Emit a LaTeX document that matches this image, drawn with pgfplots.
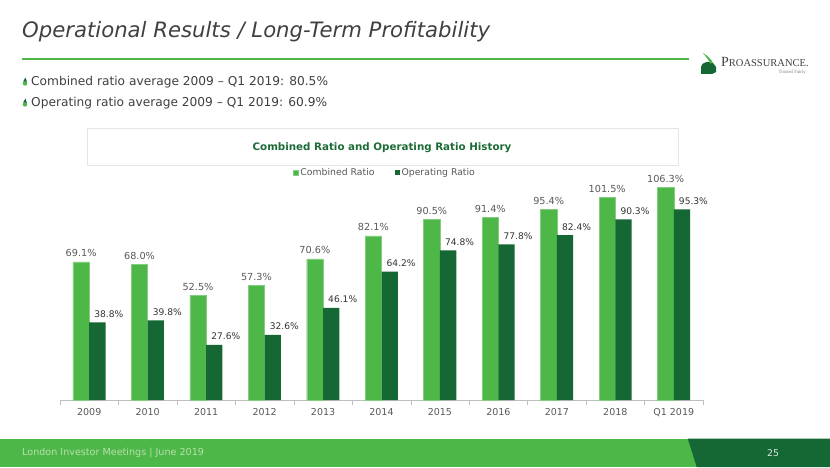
\documentclass[border=0pt]{standalone}
\usepackage{fontspec}
\setmainfont{DejaVu Sans}
\newfontfamily\logofont{Liberation Serif}
\usepackage{pgfplots}
\pgfplotsset{compat=1.18}
\usepackage{pgfplotstable}

\definecolor{pagr}{HTML}{4DB848}
\definecolor{dkgr}{HTML}{156734}
\definecolor{txtgr}{HTML}{595959}
\definecolor{titgr}{HTML}{404040}
\definecolor{ctitle}{HTML}{1B6B36}
\definecolor{foottxt}{HTML}{B8E0AE}

\pgfplotstableread{
x c cl o ol
0 69.1 69.1 38.8 38.8
1 68.0 68.0 39.8 39.8
2 52.5 52.5 27.6 27.6
3 57.3 57.3 32.6 32.6
4 70.6 70.6 46.1 46.1
5 82.1 82.1 64.2 64.2
6 90.5 90.5 74.8 74.8
7 91.4 91.4 77.8 77.8
8 95.4 95.4 82.4 82.4
9 101.5 101.5 90.3 90.3
10 106.3 106.3 95.3 95.3
}\ratios

\begin{document}
\begin{tikzpicture}[x=1pt,y=1pt]
\useasboundingbox (0,0) rectangle (830,467);
\fill[white] (0,0) rectangle (830,467);

% slide title
\node[anchor=west, inner sep=0, text=titgr, font=\fontsize{21.2}{25}\selectfont\itshape] at (22,435) {Operational Results / Long-Term Profitability};
\draw[pagr, line width=1.5pt] (22,408) -- (689,408);

% logo
\fill[dkgr] (701,393) -- (701,400) .. controls (702,404) and (705,405) .. (709,405) -- (713,404) -- (716,400) -- (716,395) -- (712,393) -- cycle;
\fill[pagr] (703,414) .. controls (708,411) and (711,408) .. (713,404) -- (710,403.5) .. controls (709,407) and (706,410) .. (703,414) -- cycle;
\node[anchor=west, inner sep=0, text=titgr] at (721,405) {\logofont\fontsize{14}{14}\selectfont P\fontsize{10.5}{11}\selectfont ROASSURANCE.};
\node[anchor=east, inner sep=0, text=black!50] at (806,394.5) {\logofont\fontsize{4.8}{5}\selectfont Trusted Fairly};

% bullets
\foreach \yy/\txt in {385/{Combined ratio average 2009 – Q1 2019: 80.5\%}, 364/{Operating ratio average 2009 – Q1 2019: 60.9\%}} {
  \fill[pagr] (25,\yy-1.5) circle (2.2);
  \fill[dkgr] (23.2,\yy+0.5) -- (25.5,\yy+4.5) -- (26.8,\yy+0.2) -- cycle;
  \node[anchor=west, inner sep=0, text=titgr, font=\fontsize{12.2}{14}\selectfont] at (31,\yy) {\txt};
}

% chart title box
\draw[black!10, line width=0.5pt] (87,339) rectangle (678,302);
\node[text=ctitle, font=\fontsize{10.3}{12}\selectfont\bfseries] at (382,319) {Combined Ratio and Operating Ratio History};

\begin{axis}[
  at={(60pt,67pt)}, anchor=south west,
  scale only axis, width=643pt, height=240pt,
  xmin=-0.5, xmax=10.5, ymin=0, ymax=120,
  axis x line*=bottom, axis y line=none,
  axis line style={-, draw=black!25},
  ybar=0pt, bar width=16.3pt,
  xtick={0,...,10},
  xticklabels={2009,2010,2011,2012,2013,2014,2015,2016,2017,2018,Q1 2019},
  major tick length=0pt,
  minor xtick={-0.5,0.5,...,10.5},
  minor tick length=5pt, tick align=outside,
  every tick/.style={draw=black!25},
  xticklabel style={font=\fontsize{9.5}{11}\selectfont, text=txtgr, yshift=-4.5pt},
  enlargelimits=false, clip=false,
  point meta=explicit symbolic,
  nodes near coords={\pgfplotspointmeta\%},
  legend style={at={(0.5054,0.946)}, anchor=center, draw=none, fill=none,
     font=\fontsize{9.3}{10}\selectfont, text=txtgr, legend columns=2,
     /tikz/every even column/.append style={column sep=18pt}},
  legend image code/.code={\fill[#1] (-2pt,-2.5pt) rectangle (3pt,2.5pt);},
]
\addplot[fill=pagr, draw=pagr!70!white, line width=0.4pt,
  every node near coord/.append style={anchor=center, yshift=8.5pt, text=txtgr, font=\fontsize{9.7}{11}\selectfont}]
  table[x=x, y=c, meta=cl] {\ratios};
\addplot[fill=dkgr, draw=none,
  every node near coord/.append style={anchor=center, xshift=11.5pt, yshift=8.5pt, text=black!80, font=\fontsize{9.1}{11}\selectfont}]
  table[x=x, y=o, meta=ol] {\ratios};
\legend{Combined Ratio, Operating Ratio}
\end{axis}

% footer
\fill[pagr] (0,0) rectangle (830,28.5);
\fill[dkgr] (687.7,28.5) -- (830,28.5) -- (830,0) -- (696.7,0) -- cycle;
\node[anchor=west, inner sep=0, text=foottxt, font=\fontsize{9.6}{11}\selectfont] at (22,14) {London Investor Meetings | June 2019};
\node[inner sep=0, text=white!85!dkgr, font=\fontsize{9.3}{11}\selectfont] at (773,14) {25};
\end{tikzpicture}
\end{document}
